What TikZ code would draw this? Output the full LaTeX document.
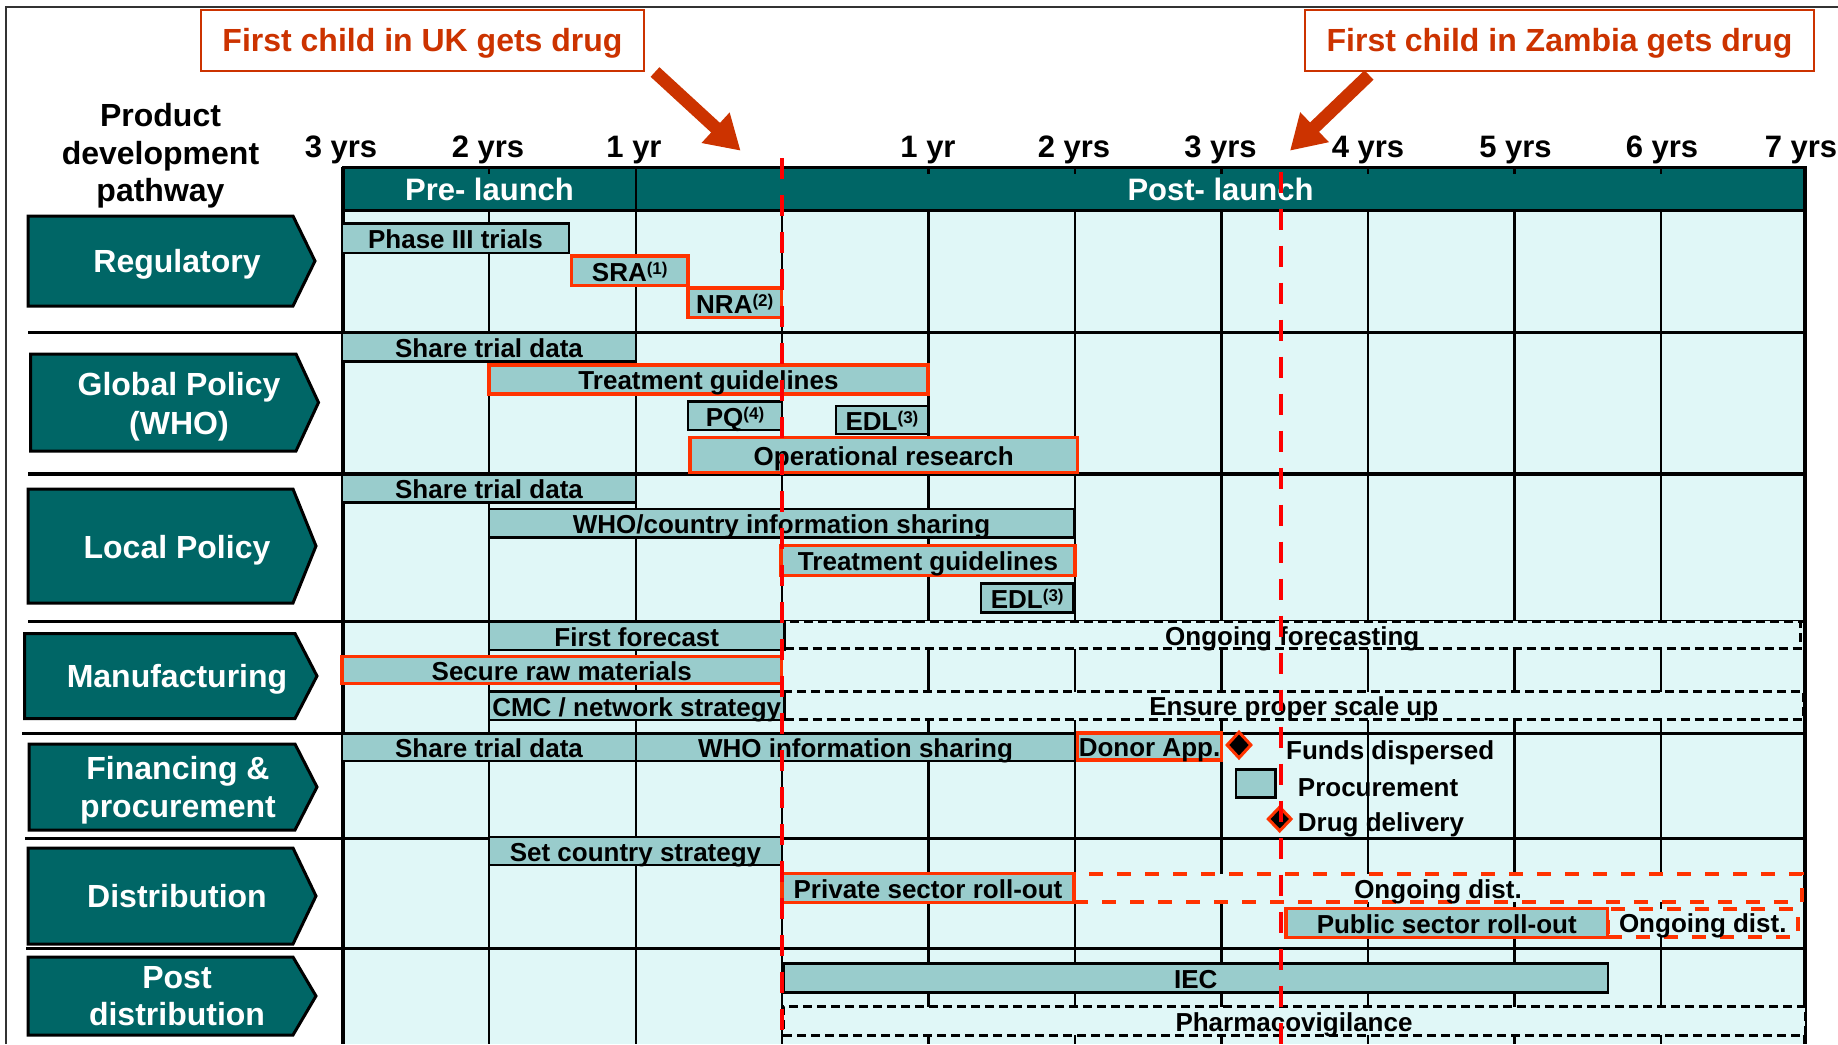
\documentclass[tikz,border=0pt]{standalone}
\usepackage{fontspec}
\setmainfont{Liberation Sans}
\usetikzlibrary{shapes.geometric,arrows.meta}
\definecolor{tealdark}{HTML}{006666}
\definecolor{cyanbg}{HTML}{E0F7F7}
\definecolor{barfill}{HTML}{99CCCC}
\definecolor{hired}{HTML}{FF3300}
\definecolor{callred}{HTML}{CC3300}
\definecolor{launchred}{HTML}{FF0000}
\definecolor{framegray}{HTML}{333333}
\newcommand\myBarFont{\fontsize{26}{30}\selectfont\bfseries}
\newcommand\myBigFont{\fontsize{32}{38}\selectfont\bfseries}
\newcommand\myYrFont{\fontsize{31}{36}\selectfont\bfseries}
\newcommand\mySup[1]{\raisebox{7pt}{\fontsize{17}{17}\selectfont(#1)}}
\newcommand\ganttbar[7]{\node[#6, minimum width={#4-(#2)}, minimum height={#5-(#3)}] (#1) at ({(#2+#4)/2},{(#3+#5)/2}) {#7};}
\begin{document}
\begin{tikzpicture}[x=1pt,y=-1pt,
  gbar/.style={draw=black, line width=2.8pt, fill=barfill, inner sep=0pt, outer sep=0pt, font=\myBarFont, text height=20.8pt, text depth=0pt},
  rbar/.style={gbar, draw=hired, line width=3.4pt},
  kdash/.style={draw=black, line width=3pt, dash pattern=on 9pt off 5pt, fill=cyanbg, inner sep=0pt, outer sep=0pt, font=\myBarFont, text height=20.8pt, text depth=0pt},
  rdash/.style={kdash, draw=hired, line width=4pt, dash pattern=on 14pt off 14pt},
  chev/.style={fill=tealdark, draw=black, line width=3pt, line join=miter},
  chevtext/.style={text=white, font=\myBigFont, anchor=base, inner sep=0pt},
  plaintext/.style={font=\myBigFont, anchor=base, inner sep=0pt},
  yrtext/.style={font=\myYrFont, anchor=base, inner sep=0pt},
  headtext/.style={text=white, font=\myYrFont, text height=22.2pt, text depth=0pt, inner sep=0pt},
  legtext/.style={font=\myBarFont, anchor=base west, inner sep=0pt},
  callout/.style={draw=callred, line width=2.2pt, fill=white, text=callred, font=\myBigFont, text height=22.9pt, text depth=0pt, inner sep=0pt},
  bigarrow/.style={draw=callred, line width=13pt, -{Triangle[length=34pt,width=39pt]}},
  launch/.style={draw=launchred, line width=4.5pt, dash pattern=on 21pt off 16pt},
  gridline/.style={draw=black, line width=2.6pt},
  sepline/.style={draw=black, line width=3.2pt},
  marker/.style={diamond, fill=black, draw=hired, line width=3pt, inner sep=0pt}
]
\useasboundingbox (0,0) rectangle (1838,1044);
\fill[white] (0,0) rectangle (1838,1044);
\draw[framegray, line width=2pt] (5.7,1044) -- (5.7,7) -- (1838,7);

% callouts and arrows
\node[callout, minimum width=443, minimum height=61] (uk) at (422.5,40.3) {First child in UK gets drug};
\node[callout, minimum width=509, minimum height=61] (zm) at (1559.5,40.3) {First child in Zambia gets drug};
\coordinate (ukS) at (655,72);
\coordinate (ukT) at (740.6,150.7);
\coordinate (zmS) at (1369,75);
\coordinate (zmT) at (1290,150.7);
\draw[bigarrow] (ukS) -- (ukT);
\draw[bigarrow] (zmS) -- (zmT);

% title
\node[plaintext] (pdp1) at (160.5,126.7) {Product};
\node[plaintext] (pdp2) at (160.5,164) {development};
\node[plaintext] (pdp3) at (160.5,201) {pathway};

% year labels
\foreach \x/\t [count=\i] in {341/3 yrs, 488/2 yrs, 634/1 yr, 928/1 yr, 1074/2 yrs, 1220.5/3 yrs, 1368/4 yrs, 1515.5/5 yrs, 1662/6 yrs, 1801/7 yrs}
  \node[yrtext] (yr\i) at (\x,157) {\t};

% grid
\fill[cyanbg] (343,210) rectangle (1805,1044);
\foreach \x in {489,636,782,928.5,1075,1221.5,1368,1514.5,1661}
  \draw[gridline] (\x,210) -- (\x,1044);
\filldraw[fill=tealdark, draw=black, line width=3pt] (343,167) rectangle (1805,210);
\draw[gridline] (636,167) -- (636,210);
\foreach \x in {489,782,928.5,1075,1221.5,1368,1514.5,1661}
  \draw[gridline] (\x,167) -- (\x,174);
\node[headtext] (pre) at (489.5,189.5) {Pre- launch};
\node[headtext] (post) at (1220.5,189.5) {Post- launch};
\draw[sepline] (343,167) -- (343,1044);
\draw[sepline] (1805,167) -- (1805,1044);
\foreach \y/\xl in {332.5/28, 474/28, 621.5/28, 733.5/22, 838.5/25, 948.5/26}
  \draw[sepline] (\xl,\y) -- (1805,\y);

% chevrons
\draw[chev] (28,216) -- (293,216) -- (315,261) -- (293,306) -- (28,306) -- cycle;
\draw[chev] (30.5,354) -- (296,354) -- (318.5,402.5) -- (296,451) -- (30.5,451) -- cycle;
\draw[chev] (28,489) -- (293,489) -- (316,546) -- (293,603) -- (28,603) -- cycle;
\draw[chev] (24.5,633.5) -- (295,633.5) -- (317,676) -- (295,718.5) -- (24.5,718.5) -- cycle;
\draw[chev] (29,744) -- (295,744) -- (317,787) -- (295,830) -- (29,830) -- cycle;
\draw[chev] (28,848) -- (293,848) -- (316,896) -- (293,944) -- (28,944) -- cycle;
\draw[chev] (28,957) -- (293,957) -- (316,996) -- (293,1035) -- (28,1035) -- cycle;
\node[chevtext] (regT) at (177,272.5) {Regulatory};
\node[chevtext] (gpT1) at (179,395.7) {Global Policy};
\node[chevtext] (gpT2) at (179,434) {(WHO)};
\node[chevtext] (lpT) at (177,558.3) {Local Policy};
\node[chevtext] (mfT) at (177,687) {Manufacturing};
\node[chevtext] (fpT1) at (178,779.3) {Financing \&};
\node[chevtext] (fpT2) at (178,817.7) {procurement};
\node[chevtext] (dsT) at (177,907.7) {Distribution};
\node[chevtext] (pdT1) at (177,988.3) {Post};
\node[chevtext] (pdT2) at (177,1025.7) {distribution};

% regulatory
\ganttbar{reg1}{342}{223.5}{569}{253}{gbar}{Phase III trials}
\ganttbar{reg2}{571.5}{256}{688}{285.5}{rbar}{SRA\mySup{1}}
\ganttbar{reg3}{688}{288}{781.5}{317.5}{rbar}{NRA\mySup{2}}
% global policy
\ganttbar{gp1}{342}{333}{636}{361.5}{gbar}{Share trial data}
\ganttbar{gp2}{489}{365}{928}{394}{rbar}{Treatment guidelines}
\ganttbar{gp3}{688}{401.5}{782}{430}{gbar}{PQ\mySup{4}}
\ganttbar{gp4}{836}{406}{928}{434}{gbar}{EDL\mySup{3}}
\ganttbar{gp5}{690}{437.5}{1077.5}{472.5}{rbar}{Operational research}
% local policy
\ganttbar{lp1}{342}{474.5}{636}{502.5}{gbar}{Share trial data}
\ganttbar{lp2}{489}{509}{1074}{537.5}{gbar}{WHO/country information sharing}
\ganttbar{lp3}{781}{545.5}{1075}{575.5}{rbar}{Treatment guidelines}
\ganttbar{lp4}{981}{583.5}{1073.5}{612.5}{gbar}{EDL\mySup{3}}
% manufacturing
\ganttbar{mf2}{784.5}{621}{1800}{648.5}{kdash}{Ongoing forecasting}
\ganttbar{mf1}{489}{622}{784.5}{650}{gbar}{First forecast}
\ganttbar{mf3}{342}{656.5}{781.5}{683.5}{rbar}{Secure raw materials}
\ganttbar{mf5}{784.5}{691.5}{1803}{719.5}{kdash}{Ensure proper scale up}
\ganttbar{mf4}{489}{691.5}{784.5}{720}{gbar}{CMC / network strategy}
% financing
\ganttbar{fp1}{342}{733.5}{636}{761}{gbar}{Share trial data}
\ganttbar{fp2}{636}{733.5}{1075}{761}{gbar}{WHO information sharing}
\ganttbar{fp3}{1077.5}{733}{1221.5}{760}{rbar}{Donor App.}
\node[marker, minimum width=25pt, minimum height=27pt] (funds) at (1239,745) {};
\ganttbar{fp5}{1236}{769.5}{1275.5}{797.5}{gbar}{}
\node[marker, minimum width=24pt, minimum height=25pt] (deliv) at (1279.7,819) {};
\node[legtext] (fundsT) at (1286,759) {Funds dispersed};
\node[legtext] (procT) at (1297.7,796) {Procurement};
\node[legtext] (delivT) at (1297.7,831) {Drug delivery};
% distribution
\ganttbar{ds1}{489}{837}{782}{865}{gbar}{Set country strategy}
\ganttbar{ds3}{1074}{873.5}{1802}{902}{rdash}{Ongoing dist.}
\ganttbar{ds2}{782}{873.5}{1074}{902.5}{rbar}{Private sector roll-out}
\ganttbar{ds5}{1607.5}{908.5}{1798}{936.5}{rdash}{Ongoing dist.}
\ganttbar{ds4}{1286}{908.5}{1607.5}{937.5}{rbar}{Public sector roll-out}
% post distribution
\ganttbar{pd1}{783.5}{963.5}{1608}{992.5}{gbar}{IEC}
\ganttbar{pd2}{783}{1006.5}{1805}{1035}{kdash}{Pharmacovigilance}

% launch lines
\coordinate (ukL1) at (782,158);
\coordinate (ukL2) at (782,1044);
\coordinate (zmL1) at (1281,171.5);
\coordinate (zmL2) at (1281,1044);
\draw[launch] (ukL1) -- (ukL2);
\draw[launch] (zmL1) -- (zmL2);
\end{tikzpicture}
\end{document}
